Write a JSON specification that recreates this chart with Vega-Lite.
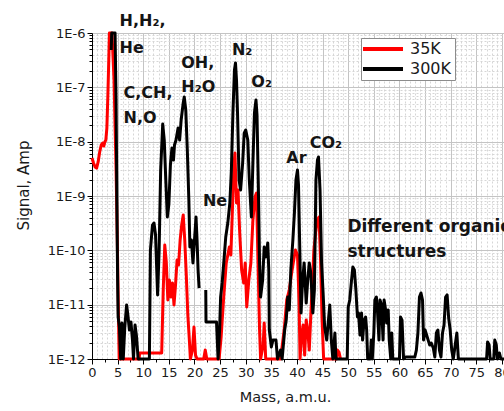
{
"$schema": "https://vega.github.io/schema/vega-lite/v6.json",
"width": 412, "height": 326,
"autosize": {"type": "none"},
"padding": {"left": 92, "top": 33, "right": 0, "bottom": 52},
"config": {
  "view": {"stroke": null},
  "font": "DejaVu Sans",
  "axis": {"labelFont": "DejaVu Sans", "titleFont": "DejaVu Sans", "labelColor": "#1a1a1a", "titleColor": "#1a1a1a", "domainColor": "#000000", "tickColor": "#000000", "titleFontWeight": "normal"}
},
"data": {"values": [
{"series":"35K","seg":"r","mass":0,"signal":5.0e-9},{"series":"35K","seg":"r","mass":0.3,"signal":4.05e-9},{"series":"35K","seg":"r","mass":0.6,"signal":3.42e-9},{"series":"35K","seg":"r","mass":0.9,"signal":3.27e-9},{"series":"35K","seg":"r","mass":1.2,"signal":4.23e-9},{"series":"35K","seg":"r","mass":1.5,"signal":6.46e-9},{"series":"35K","seg":"r","mass":1.8,"signal":8.69e-9},{"series":"35K","seg":"r","mass":2.1,"signal":9.44e-9},{"series":"35K","seg":"r","mass":2.3,"signal":8.32e-9},{"series":"35K","seg":"r","mass":2.5,"signal":9.86e-9},{"series":"35K","seg":"r","mass":2.7,"signal":1.07e-8},{"series":"35K","seg":"r","mass":2.9,"signal":1.78e-8},{"series":"35K","seg":"r","mass":3.1,"signal":7.23e-8},{"series":"35K","seg":"r","mass":3.3,"signal":3.94e-7},{"series":"35K","seg":"r","mass":3.4,"signal":1e-6},{"series":"35K","seg":"r","mass":3.9,"signal":1e-6},{"series":"35K","seg":"r","mass":4.3,"signal":1.36e-7},{"series":"35K","seg":"r","mass":4.7,"signal":3.01e-9},{"series":"35K","seg":"r","mass":5.0,"signal":6.64e-11},{"series":"35K","seg":"r","mass":5.3,"signal":1e-12},{"series":"35K","seg":"r","mass":9.2,"signal":1e-12},{"series":"35K","seg":"r","mass":9.3,"signal":1.29e-12},{"series":"35K","seg":"r","mass":13.6,"signal":1.29e-12},{"series":"35K","seg":"r","mass":13.9,"signal":1.86e-11},{"series":"35K","seg":"r","mass":14.2,"signal":1.25e-10},{"series":"35K","seg":"r","mass":14.5,"signal":6.1e-11},{"series":"35K","seg":"r","mass":14.8,"signal":1.22e-11},{"series":"35K","seg":"r","mass":15.1,"signal":2.84e-11},{"series":"35K","seg":"r","mass":15.4,"signal":1.38e-11},{"series":"35K","seg":"r","mass":15.7,"signal":2.51e-11},{"series":"35K","seg":"r","mass":16.0,"signal":9.86e-12},{"series":"35K","seg":"r","mass":16.3,"signal":2.3e-11},{"series":"35K","seg":"r","mass":16.6,"signal":6.64e-11},{"series":"35K","seg":"r","mass":16.9,"signal":5.37e-11},{"series":"35K","seg":"r","mass":17.2,"signal":1.55e-10},{"series":"35K","seg":"r","mass":17.5,"signal":2.92e-10},{"series":"35K","seg":"r","mass":17.8,"signal":4.47e-10},{"series":"35K","seg":"r","mass":18.1,"signal":1.55e-10},{"series":"35K","seg":"r","mass":18.4,"signal":3.52e-11},{"series":"35K","seg":"r","mass":18.7,"signal":6.46e-12},{"series":"35K","seg":"r","mass":19.0,"signal":2.23e-12},{"series":"35K","seg":"r","mass":19.2,"signal":1e-12},{"series":"35K","seg":"r","mass":19.6,"signal":1.46e-12},{"series":"35K","seg":"r","mass":19.9,"signal":3.88e-12},{"series":"35K","seg":"r","mass":20.2,"signal":1.18e-12},{"series":"35K","seg":"r","mass":20.5,"signal":1e-12},{"series":"35K","seg":"r","mass":21.8,"signal":1e-12},{"series":"35K","seg":"r","mass":22.1,"signal":1.46e-12},{"series":"35K","seg":"r","mass":22.4,"signal":1e-12},{"series":"35K","seg":"r","mass":24.8,"signal":1e-12},{"series":"35K","seg":"r","mass":25.2,"signal":2.54e-12},{"series":"35K","seg":"r","mass":25.7,"signal":1.38e-11},{"series":"35K","seg":"r","mass":26.2,"signal":5.85e-11},{"series":"35K","seg":"r","mass":26.8,"signal":1.15e-10},{"series":"35K","seg":"r","mass":27.1,"signal":8.2e-11},{"series":"35K","seg":"r","mass":27.4,"signal":5.52e-10},{"series":"35K","seg":"r","mass":27.7,"signal":3.72e-9},{"series":"35K","seg":"r","mass":27.9,"signal":6.18e-9},{"series":"35K","seg":"r","mass":28.2,"signal":7.43e-10},{"series":"35K","seg":"r","mass":28.5,"signal":1.29e-9},{"series":"35K","seg":"r","mass":28.8,"signal":2.37e-10},{"series":"35K","seg":"r","mass":29.2,"signal":4.35e-11},{"series":"35K","seg":"r","mass":29.6,"signal":2.51e-11},{"series":"35K","seg":"r","mass":29.9,"signal":5.85e-11},{"series":"35K","seg":"r","mass":30.2,"signal":9.06e-12},{"series":"35K","seg":"r","mass":30.6,"signal":2.84e-11},{"series":"35K","seg":"r","mass":31.0,"signal":5.85e-11},{"series":"35K","seg":"r","mass":31.4,"signal":3.61e-10},{"series":"35K","seg":"r","mass":31.8,"signal":9.57e-10},{"series":"35K","seg":"r","mass":32.1,"signal":1.13e-9},{"series":"35K","seg":"r","mass":32.4,"signal":5.85e-11},{"series":"35K","seg":"r","mass":32.7,"signal":3.41e-12},{"series":"35K","seg":"r","mass":32.9,"signal":1e-12},{"series":"35K","seg":"r","mass":33.4,"signal":1.81e-12},{"series":"35K","seg":"r","mass":33.6,"signal":4.59e-12},{"series":"35K","seg":"r","mass":33.9,"signal":1e-12},{"series":"35K","seg":"r","mass":36.8,"signal":1e-12},{"series":"35K","seg":"r","mass":37.5,"signal":3.41e-12},{"series":"35K","seg":"r","mass":38.0,"signal":1.22e-11},{"series":"35K","seg":"r","mass":38.5,"signal":1.86e-11},{"series":"35K","seg":"r","mass":38.9,"signal":3.52e-11},{"series":"35K","seg":"r","mass":39.3,"signal":6.1e-11},{"series":"35K","seg":"r","mass":39.7,"signal":1.01e-10},{"series":"35K","seg":"r","mass":40.1,"signal":8.2e-11},{"series":"35K","seg":"r","mass":40.4,"signal":1.22e-11},{"series":"35K","seg":"r","mass":40.6,"signal":1e-12},{"series":"35K","seg":"r","mass":40.9,"signal":2.76e-12},{"series":"35K","seg":"r","mass":41.2,"signal":4.22e-12},{"series":"35K","seg":"r","mass":41.5,"signal":1.18e-12},{"series":"35K","seg":"r","mass":41.8,"signal":5.21e-12},{"series":"35K","seg":"r","mass":42.1,"signal":3.41e-12},{"series":"35K","seg":"r","mass":42.4,"signal":1.46e-12},{"series":"35K","seg":"r","mass":42.7,"signal":6.46e-12},{"series":"35K","seg":"r","mass":43.0,"signal":2.51e-11},{"series":"35K","seg":"r","mass":43.3,"signal":1.01e-10},{"series":"35K","seg":"r","mass":43.7,"signal":2.37e-10},{"series":"35K","seg":"r","mass":44.0,"signal":3.61e-10},{"series":"35K","seg":"r","mass":44.3,"signal":4.1e-10},{"series":"35K","seg":"r","mass":44.6,"signal":6.64e-11},{"series":"35K","seg":"r","mass":44.9,"signal":5.21e-12},{"series":"35K","seg":"r","mass":45.2,"signal":1e-12},{"series":"35K","seg":"r","mass":47.7,"signal":1e-12},{"series":"35K","seg":"r","mass":47.9,"signal":1.46e-12},{"series":"35K","seg":"r","mass":48.2,"signal":1.34e-12},{"series":"35K","seg":"r","mass":48.5,"signal":1e-12},
{"series":"300K","seg":"b1","mass":3.75,"signal":4.86e-7},{"series":"300K","seg":"b1","mass":3.85,"signal":1e-6},{"series":"300K","seg":"b1","mass":4.5,"signal":1e-6},{"series":"300K","seg":"b1","mass":4.7,"signal":5.85e-8},{"series":"300K","seg":"b1","mass":4.85,"signal":8.43e-10},{"series":"300K","seg":"b1","mass":5.0,"signal":2.84e-11},{"series":"300K","seg":"b1","mass":5.1,"signal":5.93e-12},{"series":"300K","seg":"b1","mass":5.35,"signal":3.88e-12},{"series":"300K","seg":"b1","mass":5.6,"signal":1e-12},{"series":"300K","seg":"b1","mass":5.85,"signal":4.59e-12},{"series":"300K","seg":"b1","mass":6.1,"signal":1e-12},{"series":"300K","seg":"b1","mass":6.4,"signal":3.88e-12},{"series":"300K","seg":"b1","mass":6.75,"signal":9.86e-12},{"series":"300K","seg":"b1","mass":7.0,"signal":6.46e-12},{"series":"300K","seg":"b1","mass":7.3,"signal":3.41e-12},{"series":"300K","seg":"b1","mass":7.6,"signal":4.8e-12},{"series":"300K","seg":"b1","mass":7.9,"signal":2.23e-12},{"series":"300K","seg":"b1","mass":8.1,"signal":1e-12},{"series":"300K","seg":"b1","mass":8.4,"signal":4.22e-12},{"series":"300K","seg":"b1","mass":8.7,"signal":2.54e-12},{"series":"300K","seg":"b1","mass":9.0,"signal":1e-12},{"series":"300K","seg":"b1","mass":11.2,"signal":1e-12},{"series":"300K","seg":"b1","mass":11.4,"signal":1.01e-10},{"series":"300K","seg":"b1","mass":11.8,"signal":2.92e-10},{"series":"300K","seg":"b1","mass":12.1,"signal":3.18e-10},{"series":"300K","seg":"b1","mass":12.4,"signal":1.91e-10},{"series":"300K","seg":"b1","mass":12.8,"signal":1.51e-11},{"series":"300K","seg":"b1","mass":13.1,"signal":1.01e-10},{"series":"300K","seg":"b1","mass":13.4,"signal":3.01e-9},{"series":"300K","seg":"b1","mass":13.8,"signal":2.11e-8},{"series":"300K","seg":"b1","mass":14.1,"signal":1.07e-8},{"series":"300K","seg":"b1","mass":14.4,"signal":1.97e-9},{"series":"300K","seg":"b1","mass":14.7,"signal":4.1e-10},{"series":"300K","seg":"b1","mass":15.0,"signal":7.0e-10},{"series":"300K","seg":"b1","mass":15.3,"signal":3.72e-9},{"series":"300K","seg":"b1","mass":15.6,"signal":7.64e-9},{"series":"300K","seg":"b1","mass":15.9,"signal":4.59e-9},{"series":"300K","seg":"b1","mass":16.1,"signal":8.69e-9},{"series":"300K","seg":"b1","mass":16.4,"signal":1.07e-8},{"series":"300K","seg":"b1","mass":16.8,"signal":1.78e-8},{"series":"300K","seg":"b1","mass":17.1,"signal":1.07e-8},{"series":"300K","seg":"b1","mass":17.4,"signal":2.51e-8},{"series":"300K","seg":"b1","mass":17.8,"signal":5.15e-8},{"series":"300K","seg":"b1","mass":18.0,"signal":6.64e-8},{"series":"300K","seg":"b1","mass":18.3,"signal":3.83e-8},{"series":"300K","seg":"b1","mass":18.6,"signal":7.03e-9},{"series":"300K","seg":"b1","mass":18.9,"signal":8.43e-10},{"series":"300K","seg":"b1","mass":19.1,"signal":1.15e-10},{"series":"300K","seg":"b1","mass":19.4,"signal":1.55e-10},{"series":"300K","seg":"b1","mass":19.7,"signal":5.85e-11},{"series":"300K","seg":"b1","mass":20.0,"signal":1.55e-10},{"series":"300K","seg":"b1","mass":20.3,"signal":4.1e-10},{"series":"300K","seg":"b1","mass":20.5,"signal":1.55e-10},{"series":"300K","seg":"b1","mass":20.7,"signal":4.35e-11},{"series":"300K","seg":"b1","mass":20.9,"signal":2.02e-11},
{"series":"300K","seg":"b2","mass":22.2,"signal":1.86e-11},{"series":"300K","seg":"b2","mass":22.25,"signal":4.8e-12},{"series":"300K","seg":"b2","mass":24.3,"signal":4.8e-12},{"series":"300K","seg":"b2","mass":24.6,"signal":1e-12},{"series":"300K","seg":"b2","mass":24.9,"signal":3.41e-12},{"series":"300K","seg":"b2","mass":25.1,"signal":1.38e-11},{"series":"300K","seg":"b2","mass":25.4,"signal":2.51e-11},{"series":"300K","seg":"b2","mass":25.8,"signal":7.53e-11},{"series":"300K","seg":"b2","mass":26.1,"signal":1.76e-10},{"series":"300K","seg":"b2","mass":26.5,"signal":3.18e-10},{"series":"300K","seg":"b2","mass":26.9,"signal":7.43e-10},{"series":"300K","seg":"b2","mass":27.2,"signal":3.01e-9},{"series":"300K","seg":"b2","mass":27.5,"signal":3.37e-8},{"series":"300K","seg":"b2","mass":27.8,"signal":2.08e-7},{"series":"300K","seg":"b2","mass":28.0,"signal":2.81e-7},{"series":"300K","seg":"b2","mass":28.2,"signal":1.36e-7},{"series":"300K","seg":"b2","mass":28.4,"signal":3.37e-8},{"series":"300K","seg":"b2","mass":28.7,"signal":1.97e-9},{"series":"300K","seg":"b2","mass":29.0,"signal":1.29e-9},{"series":"300K","seg":"b2","mass":29.4,"signal":4.05e-9},{"series":"300K","seg":"b2","mass":29.7,"signal":1.44e-8},{"series":"300K","seg":"b2","mass":30.0,"signal":1.64e-8},{"series":"300K","seg":"b2","mass":30.4,"signal":1.07e-8},{"series":"300K","seg":"b2","mass":30.7,"signal":1.97e-9},{"series":"300K","seg":"b2","mass":31.1,"signal":4.1e-10},{"series":"300K","seg":"b2","mass":31.4,"signal":4.05e-9},{"series":"300K","seg":"b2","mass":31.7,"signal":3.37e-8},{"series":"300K","seg":"b2","mass":32.0,"signal":5.85e-8},{"series":"300K","seg":"b2","mass":32.2,"signal":3.1e-8},{"series":"300K","seg":"b2","mass":32.5,"signal":9.57e-10},{"series":"300K","seg":"b2","mass":32.7,"signal":5.85e-11},{"series":"300K","seg":"b2","mass":32.9,"signal":1.38e-11},{"series":"300K","seg":"b2","mass":33.3,"signal":2.84e-11},{"series":"300K","seg":"b2","mass":33.6,"signal":1.15e-10},{"series":"300K","seg":"b2","mass":33.9,"signal":7.53e-11},{"series":"300K","seg":"b2","mass":34.3,"signal":1.36e-10},{"series":"300K","seg":"b2","mass":34.5,"signal":4.35e-11},{"series":"300K","seg":"b2","mass":34.6,"signal":3.41e-12},{"series":"300K","seg":"b2","mass":35.0,"signal":1.66e-12},{"series":"300K","seg":"b2","mass":35.3,"signal":2.23e-12},{"series":"300K","seg":"b2","mass":35.9,"signal":2.23e-12},{"series":"300K","seg":"b2","mass":36.2,"signal":1e-12},{"series":"300K","seg":"b2","mass":36.8,"signal":1.46e-12},{"series":"300K","seg":"b2","mass":37.1,"signal":1e-12},{"series":"300K","seg":"b2","mass":37.6,"signal":3.41e-12},{"series":"300K","seg":"b2","mass":37.9,"signal":5.21e-12},{"series":"300K","seg":"b2","mass":38.2,"signal":1.38e-11},{"series":"300K","seg":"b2","mass":38.5,"signal":7.98e-12},{"series":"300K","seg":"b2","mass":38.8,"signal":4.35e-11},{"series":"300K","seg":"b2","mass":39.2,"signal":1.55e-10},{"series":"300K","seg":"b2","mass":39.5,"signal":4.86e-10},{"series":"300K","seg":"b2","mass":39.8,"signal":1.97e-9},{"series":"300K","seg":"b2","mass":40.1,"signal":3.01e-9},{"series":"300K","seg":"b2","mass":40.3,"signal":1.59e-9},{"series":"300K","seg":"b2","mass":40.6,"signal":5.85e-11},{"series":"300K","seg":"b2","mass":40.8,"signal":7.02e-12},{"series":"300K","seg":"b2","mass":41.1,"signal":2.84e-11},{"series":"300K","seg":"b2","mass":41.4,"signal":5.85e-11},{"series":"300K","seg":"b2","mass":41.8,"signal":1.07e-11},{"series":"300K","seg":"b2","mass":42.1,"signal":2.84e-11},{"series":"300K","seg":"b2","mass":42.4,"signal":5.85e-11},{"series":"300K","seg":"b2","mass":42.7,"signal":3.83e-11},{"series":"300K","seg":"b2","mass":43.1,"signal":7.02e-12},{"series":"300K","seg":"b2","mass":43.4,"signal":1.86e-11},{"series":"300K","seg":"b2","mass":43.7,"signal":1.97e-9},{"series":"300K","seg":"b2","mass":44.0,"signal":4.59e-9},{"series":"300K","seg":"b2","mass":44.2,"signal":5.22e-9},{"series":"300K","seg":"b2","mass":44.5,"signal":1.29e-9},{"series":"300K","seg":"b2","mass":44.8,"signal":5.85e-11},{"series":"300K","seg":"b2","mass":45.1,"signal":1.64e-11},{"series":"300K","seg":"b2","mass":45.4,"signal":3.88e-12},{"series":"300K","seg":"b2","mass":45.8,"signal":2.23e-12},{"series":"300K","seg":"b2","mass":46.4,"signal":9.86e-12},{"series":"300K","seg":"b2","mass":46.7,"signal":2.23e-12},{"series":"300K","seg":"b2","mass":47.0,"signal":1e-12},{"series":"300K","seg":"b2","mass":47.4,"signal":3.01e-12},{"series":"300K","seg":"b2","mass":47.6,"signal":1e-12},{"series":"300K","seg":"b2","mass":49.8,"signal":1e-12},{"series":"300K","seg":"b2","mass":50.0,"signal":9.06e-12},{"series":"300K","seg":"b2","mass":50.3,"signal":1.22e-11},{"series":"300K","seg":"b2","mass":50.6,"signal":2.51e-11},{"series":"300K","seg":"b2","mass":50.9,"signal":4.93e-11},{"series":"300K","seg":"b2","mass":51.2,"signal":4.35e-11},{"series":"300K","seg":"b2","mass":51.5,"signal":1.86e-11},{"series":"300K","seg":"b2","mass":51.8,"signal":5.93e-12},{"series":"300K","seg":"b2","mass":52.0,"signal":7.02e-12},{"series":"300K","seg":"b2","mass":52.3,"signal":2.76e-12},{"series":"300K","seg":"b2","mass":52.6,"signal":7.02e-12},{"series":"300K","seg":"b2","mass":52.8,"signal":2.23e-12},{"series":"300K","seg":"b2","mass":53.1,"signal":5.21e-12},{"series":"300K","seg":"b2","mass":53.4,"signal":5.93e-12},{"series":"300K","seg":"b2","mass":53.6,"signal":3.41e-12},{"series":"300K","seg":"b2","mass":53.8,"signal":1e-12},{"series":"300K","seg":"b2","mass":54.3,"signal":1e-12},{"series":"300K","seg":"b2","mass":54.5,"signal":2.23e-12},{"series":"300K","seg":"b2","mass":54.7,"signal":1e-12},{"series":"300K","seg":"b2","mass":55.0,"signal":3.01e-12},{"series":"300K","seg":"b2","mass":55.2,"signal":1.22e-11},{"series":"300K","seg":"b2","mass":55.5,"signal":1.38e-11},{"series":"300K","seg":"b2","mass":55.7,"signal":7.98e-12},{"series":"300K","seg":"b2","mass":56.0,"signal":2.23e-12},{"series":"300K","seg":"b2","mass":56.2,"signal":1.22e-11},{"series":"300K","seg":"b2","mass":56.5,"signal":9.86e-12},{"series":"300K","seg":"b2","mass":56.8,"signal":2.23e-12},{"series":"300K","seg":"b2","mass":57.0,"signal":1.22e-11},{"series":"300K","seg":"b2","mass":57.3,"signal":7.98e-12},{"series":"300K","seg":"b2","mass":57.5,"signal":4.59e-12},{"series":"300K","seg":"b2","mass":57.8,"signal":7.98e-12},{"series":"300K","seg":"b2","mass":58.0,"signal":2.23e-12},{"series":"300K","seg":"b2","mass":58.3,"signal":1e-12},{"series":"300K","seg":"b2","mass":58.5,"signal":3.01e-12},{"series":"300K","seg":"b2","mass":58.7,"signal":1e-12},{"series":"300K","seg":"b2","mass":60.0,"signal":1e-12},{"series":"300K","seg":"b2","mass":60.2,"signal":5.93e-12},{"series":"300K","seg":"b2","mass":60.5,"signal":5.21e-12},{"series":"300K","seg":"b2","mass":60.8,"signal":1e-12},{"series":"300K","seg":"b2","mass":61.2,"signal":1.09e-12},{"series":"300K","seg":"b2","mass":63.0,"signal":1.09e-12},{"series":"300K","seg":"b2","mass":63.3,"signal":1.46e-12},{"series":"300K","seg":"b2","mass":63.6,"signal":3.01e-12},{"series":"300K","seg":"b2","mass":63.9,"signal":1.38e-11},{"series":"300K","seg":"b2","mass":64.2,"signal":1.64e-11},{"series":"300K","seg":"b2","mass":64.5,"signal":1.22e-11},{"series":"300K","seg":"b2","mass":64.7,"signal":2.23e-12},{"series":"300K","seg":"b2","mass":65.0,"signal":3.41e-12},{"series":"300K","seg":"b2","mass":65.3,"signal":2.76e-12},{"series":"300K","seg":"b2","mass":65.6,"signal":2.23e-12},{"series":"300K","seg":"b2","mass":65.9,"signal":1.81e-12},{"series":"300K","seg":"b2","mass":66.2,"signal":1.97e-12},{"series":"300K","seg":"b2","mass":66.6,"signal":1.59e-12},{"series":"300K","seg":"b2","mass":66.9,"signal":1.09e-12},{"series":"300K","seg":"b2","mass":67.2,"signal":3.01e-12},{"series":"300K","seg":"b2","mass":67.5,"signal":3.41e-12},{"series":"300K","seg":"b2","mass":67.8,"signal":1.46e-12},{"series":"300K","seg":"b2","mass":68.1,"signal":1.09e-12},{"series":"300K","seg":"b2","mass":68.4,"signal":3.01e-12},{"series":"300K","seg":"b2","mass":68.7,"signal":4.22e-12},{"series":"300K","seg":"b2","mass":69.0,"signal":1.38e-11},{"series":"300K","seg":"b2","mass":69.3,"signal":1.51e-11},{"series":"300K","seg":"b2","mass":69.6,"signal":5.68e-12},{"series":"300K","seg":"b2","mass":69.9,"signal":3.41e-12},{"series":"300K","seg":"b2","mass":70.2,"signal":1.46e-12},{"series":"300K","seg":"b2","mass":70.5,"signal":1e-12},{"series":"300K","seg":"b2","mass":71.2,"signal":3.01e-12},{"series":"300K","seg":"b2","mass":71.5,"signal":1e-12},{"series":"300K","seg":"b2","mass":77.0,"signal":1e-12},{"series":"300K","seg":"b2","mass":77.2,"signal":2.06e-12},{"series":"300K","seg":"b2","mass":77.5,"signal":1.81e-12},{"series":"300K","seg":"b2","mass":77.7,"signal":1e-12},{"series":"300K","seg":"b2","mass":78.4,"signal":1e-12},{"series":"300K","seg":"b2","mass":78.6,"signal":2.23e-12},{"series":"300K","seg":"b2","mass":78.9,"signal":1.81e-12},{"series":"300K","seg":"b2","mass":79.1,"signal":1e-12},{"series":"300K","seg":"b2","mass":79.5,"signal":1.29e-12},{"series":"300K","seg":"b2","mass":79.8,"signal":1e-12},{"series":"300K","seg":"b2","mass":80.4,"signal":1e-12}
]},
"layer": [
  {
    "mark": {"type": "point", "opacity": 0, "size": 0},
    "encoding": {
      "x": {"field": "mass", "type": "quantitative", "scale": {"type": "linear", "domain": [0, 80.4], "nice": false, "zero": false},
        "axis": {"orient": "bottom", "values": [1,2,3,4,6,7,8,9,11,12,13,14,16,17,18,19,21,22,23,24,26,27,28,29,31,32,33,34,36,37,38,39,41,42,43,44,46,47,48,49,51,52,53,54,56,57,58,59,61,62,63,64,66,67,68,69,71,72,73,74,76,77,78,79], "grid": true, "gridColor": "#d6d6d6", "gridDash": [2, 2], "gridWidth": 1, "ticks": false, "labels": false, "domain": false, "title": null}},
      "y": {"field": "signal", "type": "quantitative", "scale": {"type": "log", "domain": [1e-12, 1e-6], "nice": false},
        "axis": {"orient": "left", "values": [2e-12,3e-12,4e-12,5e-12,6e-12,7e-12,8e-12,9e-12,2e-11,3e-11,4e-11,5e-11,6e-11,7e-11,8e-11,9e-11,2e-10,3e-10,4e-10,5e-10,6e-10,7e-10,8e-10,9e-10,2e-9,3e-9,4e-9,5e-9,6e-9,7e-9,8e-9,9e-9,2e-8,3e-8,4e-8,5e-8,6e-8,7e-8,8e-8,9e-8,2e-7,3e-7,4e-7,5e-7,6e-7,7e-7,8e-7,9e-7], "grid": true, "gridColor": "#d6d6d6", "gridDash": [2, 2], "gridWidth": 1, "ticks": true, "tickSize": 3, "labels": false, "domain": false, "title": null}}
    }
  },
  {
    "mark": {"type": "point", "opacity": 0, "size": 0},
    "encoding": {
      "x": {"field": "mass", "type": "quantitative", "scale": {"type": "linear", "domain": [0, 80.4], "nice": false, "zero": false},
        "axis": {"orient": "bottom", "values": [2.5,7.5,12.5,17.5,22.5,27.5,32.5,37.5,42.5,47.5,52.5,57.5,62.5,67.5,72.5,77.5], "grid": false, "ticks": true, "tickSize": 3, "labels": false, "domain": false, "title": null}},
      "y": {"field": "signal", "type": "quantitative", "scale": {"type": "log", "domain": [1e-12, 1e-6], "nice": false}, "axis": null}
    }
  },
  {
    "transform": [{"filter": "datum.series === '35K'"}],
    "mark": {"type": "line", "strokeWidth": 3, "strokeJoin": "round"},
    "encoding": {
      "x": {"field": "mass", "type": "quantitative", "scale": {"type": "linear", "domain": [0, 80.4], "nice": false, "zero": false},
        "axis": {"orient": "bottom", "values": [0,5,10,15,20,25,30,35,40,45,50,55,60,65,70,75,80], "format": "d", "grid": true, "gridColor": "#c4c4c4", "gridWidth": 1, "tickSize": 5, "labelFontSize": 13, "labelPadding": 2, "labelOverlap": false, "labelFlush": false, "title": "Mass, a.m.u.", "titleFontSize": 14.5, "titlePadding": 11, "titleX": 193, "domainWidth": 1}},
      "y": {"field": "signal", "type": "quantitative", "scale": {"type": "log", "domain": [1e-12, 1e-6], "nice": false},
        "axis": {"orient": "left", "values": [1e-12,1e-11,1e-10,1e-9,1e-8,1e-7,1e-6], "labelExpr": "'1E' + round(log(datum.value)/LN10)", "grid": true, "gridColor": "#c4c4c4", "gridWidth": 1, "tickSize": 5, "labelFontSize": 13, "labelPadding": 2, "labelOverlap": false, "title": "Signal, Amp", "titleFontSize": 15, "titlePadding": 16, "titleY": 152, "domainWidth": 1}},
      "color": {"field": "series", "type": "nominal", "scale": {"domain": ["35K", "300K"], "range": ["#ff0000", "#000000"]},
        "legend": {"orient": "none", "legendX": 269, "legendY": 5, "title": null, "symbolType": "M-1.8,0H6.2", "symbolSize": 100, "symbolStrokeWidth": 4, "labelFont": "DejaVu Sans", "labelFontSize": 16, "labelColor": "#1a1a1a", "labelOffset": 30, "strokeColor": "#8c8c8c", "fillColor": "#ffffff", "padding": 3, "rowPadding": 4}}
    }
  },
  {
    "transform": [{"filter": "datum.series === '300K'"}],
    "mark": {"type": "line", "strokeWidth": 3, "strokeJoin": "round"},
    "encoding": {
      "x": {"field": "mass", "type": "quantitative", "scale": {"type": "linear", "domain": [0, 80.4], "nice": false, "zero": false}, "axis": null},
      "y": {"field": "signal", "type": "quantitative", "scale": {"type": "log", "domain": [1e-12, 1e-6], "nice": false}, "axis": null},
      "detail": {"field": "seg", "type": "nominal"},
      "color": {"field": "series", "type": "nominal", "scale": {"domain": ["35K", "300K"], "range": ["#ff0000", "#000000"]},
        "legend": {"orient": "none", "legendX": 269, "legendY": 5, "title": null, "symbolType": "M-1.8,0H6.2", "symbolSize": 100, "symbolStrokeWidth": 4, "labelFont": "DejaVu Sans", "labelFontSize": 16, "labelColor": "#1a1a1a", "labelOffset": 30, "strokeColor": "#8c8c8c", "fillColor": "#ffffff", "padding": 3, "rowPadding": 4}}
    }
  },
  {
    "data": {"values": [
      {"label": "H,H₂,", "mass": 5.37, "signal": 1.35e-6},
      {"label": "He", "mass": 5.37, "signal": 4.29e-7},
      {"label": "C,CH,", "mass": 6.15, "signal": 6.37e-8},
      {"label": "N,O", "mass": 6.15, "signal": 2.2e-8},
      {"label": "OH,", "mass": 17.42, "signal": 2.27e-7},
      {"label": "H₂O", "mass": 17.42, "signal": 8.32e-8},
      {"label": "N₂", "mass": 27.3, "signal": 3.94e-7},
      {"label": "O₂", "mass": 31.09, "signal": 1.0e-7},
      {"label": "Ne", "mass": 21.64, "signal": 6.55e-10},
      {"label": "Ar", "mass": 37.93, "signal": 4.1e-9},
      {"label": "CO₂", "mass": 42.48, "signal": 7.55e-9}
    ]},
    "mark": {"type": "text", "align": "left", "baseline": "alphabetic", "font": "DejaVu Sans", "fontWeight": "bold", "fontSize": 16, "color": "#141414"},
    "encoding": {
      "x": {"field": "mass", "type": "quantitative", "scale": {"type": "linear", "domain": [0, 80.4], "nice": false, "zero": false}, "axis": null},
      "y": {"field": "signal", "type": "quantitative", "scale": {"type": "log", "domain": [1e-12, 1e-6], "nice": false}, "axis": null},
      "text": {"field": "label", "type": "nominal"}
    }
  },
  {
    "data": {"values": [
      {"label": "Different organic", "mass": 49.84, "signal": 2.15e-10},
      {"label": "structures", "mass": 49.84, "signal": 7.64e-11}
    ]},
    "mark": {"type": "text", "align": "left", "baseline": "alphabetic", "font": "DejaVu Sans", "fontWeight": "bold", "fontSize": 17, "color": "#141414"},
    "encoding": {
      "x": {"field": "mass", "type": "quantitative", "scale": {"type": "linear", "domain": [0, 80.4], "nice": false, "zero": false}, "axis": null},
      "y": {"field": "signal", "type": "quantitative", "scale": {"type": "log", "domain": [1e-12, 1e-6], "nice": false}, "axis": null},
      "text": {"field": "label", "type": "nominal"}
    }
  }
],
"resolve": {"axis": {"x": "independent", "y": "independent"}}
}
